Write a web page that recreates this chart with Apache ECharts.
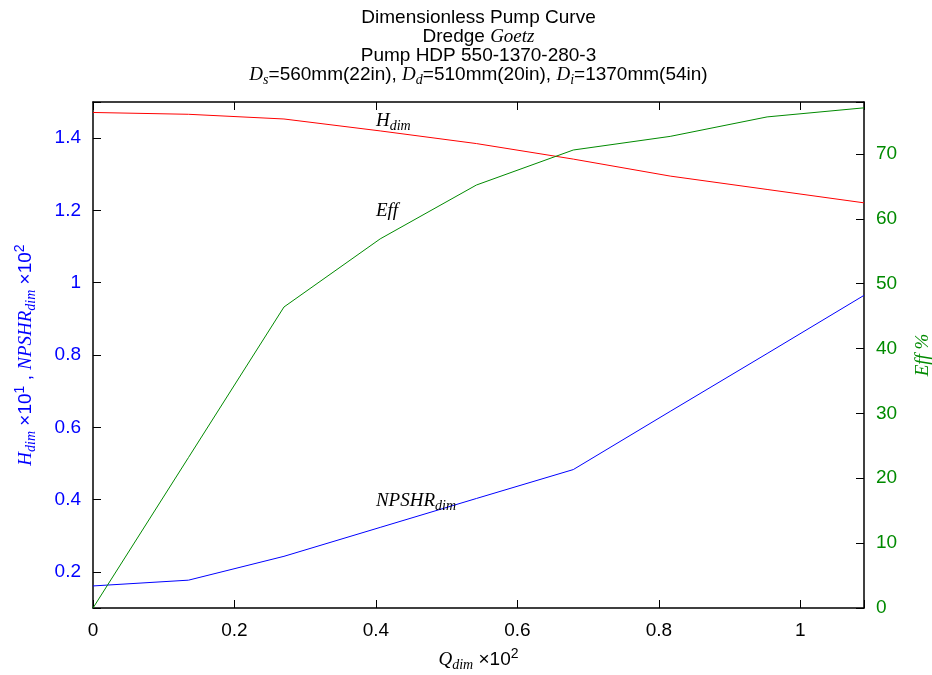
<!DOCTYPE html>
<html>
<head>
<meta charset="utf-8">
<script src="https://cdn.jsdelivr.net/npm/echarts@6/dist/echarts.min.js"></script>
<style>
    html, body { margin: 0; padding: 0; background: #fff; }
    #chart { width: 932px; height: 675px; }
</style>
</head>
<body>
<div id="chart"></div>
<script>
// pump curve readings
var qDim = [0, 0.135, 0.27, 0.406, 0.542, 0.679, 0.816, 0.953, 1.09];
var hDim = [1.471, 1.466, 1.453, 1.42, 1.385, 1.342, 1.295, 1.258, 1.221];
var npshrDim = [0.161, 0.177, 0.243, 0.323, 0.403, 0.483, 0.644, 0.804, 0.965];
var eff = [0, 23.2, 46.4, 56.9, 65.2, 70.6, 72.7, 75.7, 77.1];

var SANS = 'Liberation Sans';
var SERIF = 'Liberation Serif';
var BLUE = '#0000ff';
var RED = '#ff0000';
var GREEN = '#008a00';

// n = plain, i = italic serif, s = subscript, p = superscript
function richFor(color, lh) {
    return {
        n: {fontFamily: SANS, fontWeight: 'normal', fontSize: 19, color: color, lineHeight: lh, verticalAlign: 'middle'},
        i: {fontFamily: SERIF, fontWeight: 'normal', fontStyle: 'italic', fontSize: 19, color: color, lineHeight: lh, verticalAlign: 'middle'},
        s: {fontFamily: SERIF, fontWeight: 'normal', fontStyle: 'italic', fontSize: 14, color: color, lineHeight: lh, padding: [11, 0, 0, 0], verticalAlign: 'middle'},
        p: {fontFamily: SANS, fontWeight: 'normal', fontSize: 14, color: color, lineHeight: lh, padding: [0, 0, 11, 0], verticalAlign: 'middle'}
    };
}

// only label the round steps, the range ends stay blank
function stepLabel(step) {
    return function (v) {
        var k = v / step;
        if (Math.abs(k - Math.round(k)) > 1e-6) {
            return '';
        }
        return String(+(Math.round(k) * step).toFixed(1));
    };
}

function pairs(xs, ys) {
    var out = [];
    for (var i = 0; i < xs.length; i++) {
        out.push([xs[i], ys[i]]);
    }
    return out;
}

function curveLabel(text, x, y) {
    return {
        coord: [x, y],
        label: {
            show: true,
            position: 'right',
            distance: 0,
            offset: [0, 1],
            formatter: text,
            rich: richFor('#000', 22)
        }
    };
}

// axes stay on the frame, not on zero
var axisLineStyle = {show: true, onZero: false, lineStyle: {color: '#000', width: 1.5}};
var tickStyle = {show: true, inside: true, length: 8, lineStyle: {color: '#000', width: 1}};

var myChart = echarts.init(document.getElementById('chart'));
var option = {
    animation: false,
    title: {
        text: '{n|Dimensionless Pump Curve}\n{n|Dredge }{i|Goetz}\n{n|Pump HDP 550-1370-280-3}\n' +
              '{i|D}{s|s}{n|=560mm(22in), }{i|D}{s|d}{n|=510mm(20in), }{i|D}{s|i}{n|=1370mm(54in)}',
        left: 478.5,
        top: 8,
        padding: 0,
        textAlign: 'center',
        textStyle: {
            fontWeight: 'normal',
            rich: richFor('#000', 19)
        }
    },
    grid: {
        left: 93,
        right: 68,
        top: 102,
        bottom: 67,
        containLabel: false,
        outerBoundsMode: 'none'
    },
    xAxis: [
        {
            type: 'value',
            min: 0,
            max: 1.09,
            interval: 0.2,
            position: 'bottom',
            splitLine: {show: false},
            axisLine: axisLineStyle,
            axisTick: tickStyle,
            axisLabel: {formatter: stepLabel(0.2), margin: 13, color: '#000', fontFamily: SANS, fontSize: 19},
            name: '{i|Q}{s|dim}{n| ×10}{p|2}',
            nameLocation: 'middle',
            nameGap: 41,
            nameTextStyle: {rich: richFor('#000', 22)}
        },
        {
            type: 'value',
            min: 0,
            max: 1.09,
            interval: 0.2,
            position: 'top',
            splitLine: {show: false},
            axisLine: axisLineStyle,
            axisTick: tickStyle,
            axisLabel: {show: false}
        }
    ],
    yAxis: [
        {
            type: 'value',
            min: 0.1,
            max: 1.5,
            splitNumber: 7,
            position: 'left',
            splitLine: {show: false},
            axisLine: axisLineStyle,
            axisTick: tickStyle,
            axisLabel: {formatter: stepLabel(0.2), margin: 12, color: BLUE, fontFamily: SANS, fontSize: 19},
            name: '{i|H}{s|dim}{n| ×10}{p|1}{n| , }{i|NPSHR}{s|dim}{n| ×10}{p|2}',
            nameLocation: 'middle',
            nameRotate: 90,
            nameGap: 56,
            nameTextStyle: {rich: richFor(BLUE, 22)}
        },
        {
            type: 'value',
            min: 0,
            max: 78,
            interval: 10,
            position: 'right',
            splitLine: {show: false},
            axisLine: axisLineStyle,
            axisTick: tickStyle,
            axisLabel: {formatter: stepLabel(10), margin: 12, color: GREEN, fontFamily: SANS, fontSize: 19},
            name: '{i|Eff %}',
            nameLocation: 'middle',
            nameRotate: 90,
            nameGap: 48,
            nameTextStyle: {rich: richFor(GREEN, 22)}
        }
    ],
    series: [
        {
            name: 'H_dim',
            type: 'line',
            xAxisIndex: 0,
            yAxisIndex: 0,
            showSymbol: false,
            color: RED,
            lineStyle: {color: RED, width: 1},
            data: pairs(qDim, hDim),
            markPoint: {
                symbol: 'circle',
                symbolSize: 0,
                silent: true,
                data: [
                    curveLabel('{i|H}{s|dim}', 0.4, 1.45),
                    curveLabel('{i|Eff}', 0.4, 1.2),
                    curveLabel('{i|NPSHR}{s|dim}', 0.4, 0.4)
                ]
            }
        },
        {
            name: 'NPSHR_dim',
            type: 'line',
            xAxisIndex: 0,
            yAxisIndex: 0,
            showSymbol: false,
            color: BLUE,
            lineStyle: {color: BLUE, width: 1},
            data: pairs(qDim, npshrDim)
        },
        {
            name: 'Eff',
            type: 'line',
            xAxisIndex: 0,
            yAxisIndex: 1,
            showSymbol: false,
            color: GREEN,
            lineStyle: {color: GREEN, width: 1},
            data: pairs(qDim, eff)
        }
    ]
};
myChart.setOption(option);
</script>
</body>
</html>
